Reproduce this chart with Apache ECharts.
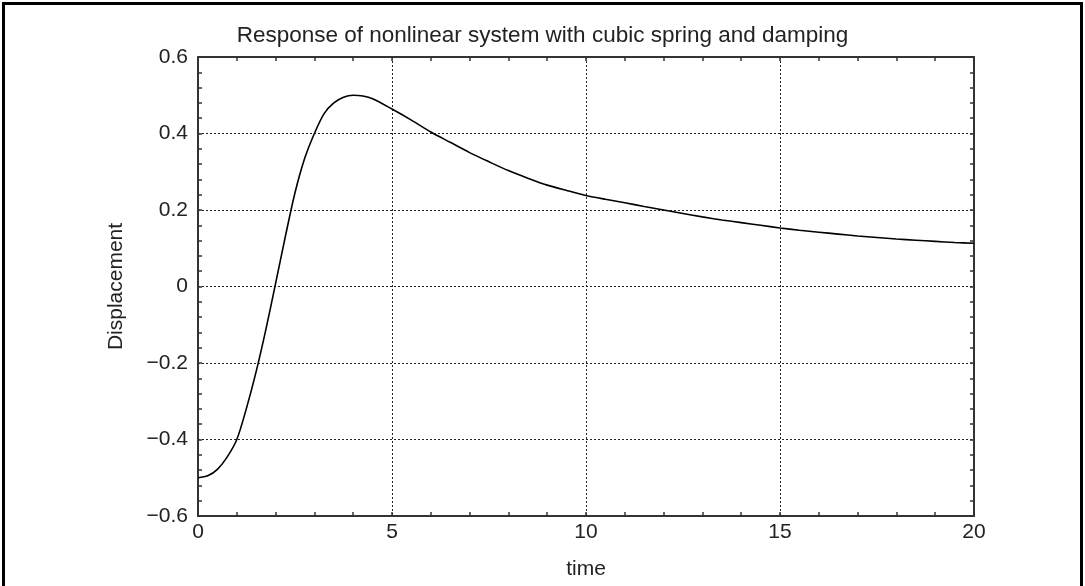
<!DOCTYPE html>
<html>
<head>
<meta charset="utf-8">
<title>Response of nonlinear system with cubic spring and damping</title>
<script src="https://cdn.jsdelivr.net/npm/echarts@6/dist/echarts.min.js"></script>
<style>
  html, body { margin: 0; padding: 0; background: #fff; }
  #chart { width: 1085px; height: 586px; }
</style>
</head>
<body>
<div id="chart"></div>
<script>
// Sampled response: time (s) and displacement
const timeValues = [
  0, 0.25, 0.5, 0.75, 1.0, 1.25, 1.5, 1.75, 2.0, 2.25, 2.5, 2.75, 3.0, 3.25, 3.5, 3.75,
  4.0, 4.25, 4.5, 5.0, 5.5, 6.0, 6.5, 7.0, 7.5, 8.0, 8.5, 9.0, 9.5, 10.0,
  10.5, 11.0, 11.5, 12.0, 12.5, 13.0, 13.5, 14.0, 14.5, 15.0, 15.5, 16.0,
  16.5, 17.0, 17.5, 18.0, 18.5, 19.0, 19.5, 20.0
];
const displacementValues = [
  -0.500, -0.495, -0.478, -0.446, -0.400, -0.318, -0.222, -0.112, 0.008, 0.130, 0.245, 0.335, 0.400, 0.452, 0.480, 0.495,
  0.500, 0.498, 0.491, 0.464, 0.435, 0.404, 0.377, 0.350, 0.326, 0.303, 0.283, 0.265, 0.251, 0.238,
  0.228, 0.219, 0.209, 0.200, 0.191, 0.182, 0.174, 0.167, 0.160, 0.153, 0.147, 0.142,
  0.137, 0.132, 0.128, 0.124, 0.121, 0.118, 0.115, 0.113
];
const xTickValues = [0, 5, 10, 15, 20];
const yTickValues = [-0.6, -0.4, -0.2, 0, 0.2, 0.4, 0.6];

const titleText = 'Response of nonlinear system with cubic spring and damping';
const xName = 'time';
const yName = 'Displacement';

const FONT = '"Liberation Sans", Arial, sans-serif';
const AXIS_COLOR = '#333';
const TEXT_COLOR = '#222';

const seriesData = timeValues.map((t, i) => [t, displacementValues[i]]);

function fmt(v) {
  const s = Math.abs(v) < 1e-9 ? '0' : String(Math.round(v * 10) / 10);
  return s.replace('-', '\u2212');
}

const xMin = xTickValues[0], xMax = xTickValues[xTickValues.length - 1];
const xStep = xTickValues[1] - xTickValues[0];
const yMin = yTickValues[0], yMax = yTickValues[yTickValues.length - 1];
const yStep = Math.round((yTickValues[1] - yTickValues[0]) * 10) / 10;

const tickStyle = { show: true, inside: true, length: 4, lineStyle: { color: AXIS_COLOR, width: 1.5 } };
const minorStyle = { show: true, splitNumber: 5, length: 4, lineStyle: { color: AXIS_COLOR, width: 1.5 } };
const lineStyleAxis = { show: true, onZero: false, lineStyle: { color: AXIS_COLOR, width: 2 } };
const gridDots = { show: true, lineStyle: { color: '#222', width: 1, type: [2, 2] } };

const chart = echarts.init(document.getElementById('chart'), null, { renderer: 'canvas' });
chart.setOption({
  animation: false,
  backgroundColor: '#fff',
  title: {
    text: titleText,
    left: 'center',
    top: 19,
    textStyle: { fontFamily: FONT, fontSize: 22.5, fontWeight: 'normal', color: TEXT_COLOR }
  },
  graphic: [{
    type: 'rect',
    shape: { x: 3.5, y: 3.5, width: 1078, height: 700 },
    style: { fill: 'none', stroke: '#000', lineWidth: 3 },
    silent: true,
    z: 100
  }],
  grid: { left: 198, top: 57, right: 111, bottom: 70, containLabel: false },
  xAxis: [{
    type: 'value', min: xMin, max: xMax, interval: xStep,
    position: 'bottom',
    name: xName, nameLocation: 'middle', nameGap: 43,
    nameTextStyle: { fontFamily: FONT, fontSize: 21, color: TEXT_COLOR },
    axisLine: lineStyleAxis,
    axisTick: tickStyle,
    minorTick: minorStyle,
    axisLabel: { margin: 6, fontFamily: FONT, fontSize: 21, color: TEXT_COLOR, formatter: fmt },
    splitLine: gridDots
  }, {
    type: 'value', min: xMin, max: xMax, interval: xStep,
    position: 'top',
    axisLine: lineStyleAxis,
    axisTick: tickStyle,
    minorTick: minorStyle,
    axisLabel: { show: false },
    splitLine: { show: false }
  }],
  yAxis: [{
    type: 'value', min: yMin, max: yMax, interval: yStep,
    position: 'left',
    name: yName, nameLocation: 'middle', nameGap: 71, nameRotate: 90,
    nameTextStyle: { fontFamily: FONT, fontSize: 21, color: TEXT_COLOR },
    axisLine: lineStyleAxis,
    axisTick: tickStyle,
    minorTick: minorStyle,
    axisLabel: { margin: 10, fontFamily: FONT, fontSize: 21, color: TEXT_COLOR, formatter: fmt },
    splitLine: gridDots
  }, {
    type: 'value', min: yMin, max: yMax, interval: yStep,
    position: 'right',
    axisLine: lineStyleAxis,
    axisTick: tickStyle,
    minorTick: minorStyle,
    axisLabel: { show: false },
    splitLine: { show: false }
  }],
  series: [{
    type: 'line',
    xAxisIndex: 0,
    yAxisIndex: 0,
    data: seriesData,
    smooth: 0.3,
    showSymbol: false,
    lineStyle: { color: '#000', width: 1.6 },
    z: 10
  }]
});
</script>
</body>
</html>
